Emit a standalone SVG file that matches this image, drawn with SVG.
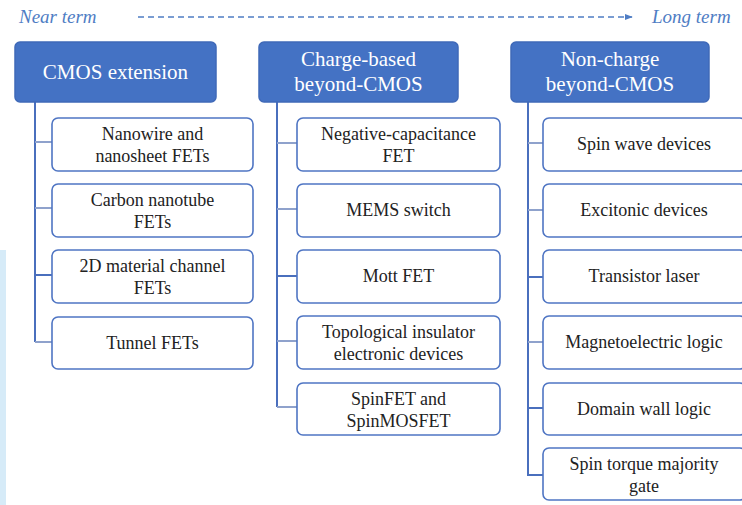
<svg xmlns="http://www.w3.org/2000/svg" width="742" height="505" viewBox="0 0 742 505" font-family="Liberation Serif, DejaVu Serif, serif">
  <style>
    .head rect { fill: #4472c4; stroke: #3f69b8; stroke-width: 1.5; }
    .head text { fill: #ffffff; font-size: 21px; text-anchor: middle; }
    .item rect { fill: #ffffff; stroke: #4f75c3; stroke-width: 1.6; }
    .item text { fill: #222222; font-size: 18px; text-anchor: middle; }
    .term { fill: #4f7dc4; font-style: italic; font-size: 19px; }
    .trunk { stroke: #4a6fbd; stroke-width: 2; fill: none; }
    .stub { stroke: #8fa2cc; stroke-width: 2; fill: none; }
  </style>
  <defs>
    <marker id="tip" viewBox="0 0 10 10" refX="9" refY="5" markerWidth="8" markerHeight="8" markerUnits="userSpaceOnUse" orient="auto">
      <path d="M0,1 L10,5 L0,9 Z" fill="#4f7dc4"/>
    </marker>
  </defs>

  <!-- page edge strip -->
  <rect x="0" y="250" width="6" height="255" fill="#d6ebf8"/>

  <!-- timeline -->
  <g id="timeline">
    <text class="term" x="19" y="23" font-family="Liberation Serif, serif">Near term</text>
    <line x1="138" y1="17" x2="632" y2="17" stroke="#4f7dc4" stroke-width="1.3" stroke-dasharray="6 4" marker-end="url(#tip)"/>
    <text class="term" x="652" y="23" font-family="Liberation Serif, serif">Long term</text>
  </g>

  <!-- connectors -->
  <g id="connectors">
    <path class="trunk" d="M35,102 V342"/>
    <path class="stub" d="M35,142 H52 M35,208 H52 M35,342 H52"/>
    <path class="trunk" d="M35,275 H52"/>
    <path class="trunk" d="M277,102 V407"/>
    <path class="stub" d="M277,143 H297 M277,209 H297 M277,341 H297 M277,407 H297"/>
    <path class="trunk" d="M277,276 H297"/>
    <path class="trunk" d="M528,102 V475 H543"/>
    <path class="stub" d="M528,143 H543 M528,210 H543 M528,342 H543"/>
    <path class="trunk" d="M528,277 H543 M528,408 H543"/>
  </g>

  <!-- column headers -->
  <g id="cmos-extension" class="head">
    <rect x="15" y="42" width="201" height="60" rx="5"/>
    <text x="115.5" y="79">CMOS extension</text>
  </g>
  <g id="charge-based" class="head">
    <rect x="259" y="42" width="199" height="60" rx="5"/>
    <text x="358.5" y="66">Charge-based</text>
    <text x="358.5" y="91">beyond-CMOS</text>
  </g>
  <g id="non-charge" class="head">
    <rect x="511" y="42" width="198" height="60" rx="5"/>
    <text x="610" y="66">Non-charge</text>
    <text x="610" y="91">beyond-CMOS</text>
  </g>

  <!-- CMOS extension items -->
  <g id="nanowire" class="item">
    <rect x="52" y="118" width="201" height="53" rx="6"/>
    <text x="152.5" y="140">Nanowire and</text>
    <text x="152.5" y="162">nanosheet FETs</text>
  </g>
  <g id="cnt" class="item">
    <rect x="52" y="184" width="201" height="53" rx="6"/>
    <text x="152.5" y="206">Carbon nanotube</text>
    <text x="152.5" y="228">FETs</text>
  </g>
  <g id="twod" class="item">
    <rect x="52" y="250" width="201" height="53" rx="6"/>
    <text x="152.5" y="272">2D material channel</text>
    <text x="152.5" y="294">FETs</text>
  </g>
  <g id="tunnel" class="item">
    <rect x="52" y="317" width="201" height="52" rx="6"/>
    <text x="152.5" y="349">Tunnel FETs</text>
  </g>

  <!-- Charge-based items -->
  <g id="ncfet" class="item">
    <rect x="297" y="118" width="203" height="53" rx="6"/>
    <text x="398.5" y="140">Negative-capacitance</text>
    <text x="398.5" y="162">FET</text>
  </g>
  <g id="mems" class="item">
    <rect x="297" y="184" width="203" height="53" rx="6"/>
    <text x="398.5" y="216">MEMS switch</text>
  </g>
  <g id="mott" class="item">
    <rect x="297" y="250" width="203" height="53" rx="6"/>
    <text x="398.5" y="282">Mott FET</text>
  </g>
  <g id="topological" class="item">
    <rect x="297" y="316" width="203" height="53" rx="6"/>
    <text x="398.5" y="338">Topological insulator</text>
    <text x="398.5" y="360">electronic devices</text>
  </g>
  <g id="spinfet" class="item">
    <rect x="297" y="383" width="203" height="52" rx="6"/>
    <text x="398.5" y="405">SpinFET and</text>
    <text x="398.5" y="427">SpinMOSFET</text>
  </g>

  <!-- Non-charge items -->
  <g id="spinwave" class="item">
    <rect x="543" y="118" width="203" height="53" rx="6"/>
    <text x="644" y="150">Spin wave devices</text>
  </g>
  <g id="excitonic" class="item">
    <rect x="543" y="184" width="203" height="53" rx="6"/>
    <text x="644" y="216">Excitonic devices</text>
  </g>
  <g id="laser" class="item">
    <rect x="543" y="250" width="203" height="53" rx="6"/>
    <text x="644" y="282">Transistor laser</text>
  </g>
  <g id="me-logic" class="item">
    <rect x="543" y="316" width="203" height="53" rx="6"/>
    <text x="644" y="348">Magnetoelectric logic</text>
  </g>
  <g id="domain-wall" class="item">
    <rect x="543" y="383" width="203" height="52" rx="6"/>
    <text x="644" y="415">Domain wall logic</text>
  </g>
  <g id="stmg" class="item">
    <rect x="543" y="448" width="203" height="52" rx="6"/>
    <text x="644" y="470">Spin torque majority</text>
    <text x="644" y="492">gate</text>
  </g>
</svg>
